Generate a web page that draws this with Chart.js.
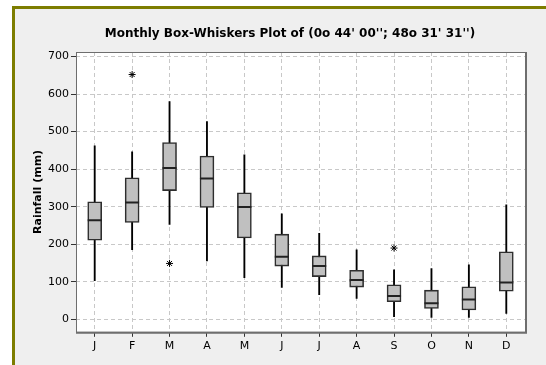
<!DOCTYPE html>
<html>
<head>
<meta charset="utf-8">
<script src="https://cdn.jsdelivr.net/npm/chart.js@4.4.1/dist/chart.umd.min.js"></script>
<style>
  html, body { margin: 0; padding: 0; background: #ffffff; }
  #frame {
    position: absolute; left: 12px; top: 6px; width: 534px; height: 359px;
    background: #efefef; border-left: 3px solid #7d7d00; border-top: 3px solid #7d7d00;
    box-sizing: border-box;
  }
  #wrap { position: absolute; left: 0; top: 0; width: 546px; height: 365px; }
</style>
</head>
<body>
<div id="frame"></div>
<div id="wrap"><canvas id="c" width="546" height="365"></canvas></div>
<script>
// Monthly rainfall distribution (mm)
const months   = ['J', 'F', 'M', 'A', 'M', 'J', 'J', 'A', 'S', 'O', 'N', 'D'];
const whiskLow = [103, 186, 253, 156, 111, 85, 66, 56, 7, 5, 5, 16];
const q1       = [211, 258, 343, 298, 217, 142, 114, 86, 47, 29, 25, 75];
const medians  = [264, 311, 403, 375, 299, 167, 142, 105, 62, 43, 53, 98];
const q3       = [313, 377, 471, 435, 337, 227, 169, 131, 92, 78, 87, 180];
const whiskHigh= [462, 446, 580, 527, 438, 281, 229, 185, 132, 135, 145, 305];
const outliers = [null, 652, 149, null, null, null, null, null, 190, null, null, null];
const yTicks   = [0, 100, 200, 300, 400, 500, 600, 700];
const titleText = "Monthly Box-Whiskers Plot of (0o 44' 00''; 48o 31' 31'')";
const yTitle = 'Rainfall (mm)';

const fontFamily = 'Tahoma, "DejaVu Sans", Verdana, sans-serif';

// white plotting area, its frame, the heading and the value-axis caption
const plotDecor = {
  id: 'plotDecor',
  beforeDraw(chart) {
    const { ctx, chartArea: a } = chart;
    ctx.save();
    ctx.fillStyle = '#ffffff';
    ctx.fillRect(a.left, a.top, a.right - a.left, a.bottom - a.top);
    ctx.restore();
  },
  afterDraw(chart) {
    const { ctx, chartArea: a } = chart;
    ctx.save();
    ctx.strokeStyle = '#6e6e6e';
    ctx.lineWidth = 1;
    ctx.strokeRect(a.left + 0.5, a.top + 0.5, a.right - a.left, a.bottom - a.top);
    ctx.lineWidth = 2;
    ctx.beginPath();
    ctx.moveTo(a.right + 1, a.top);
    ctx.lineTo(a.right + 1, a.bottom + 1);
    ctx.lineTo(a.left, a.bottom + 1);
    ctx.stroke();
    ctx.fillStyle = '#000';
    ctx.font = 'bold 12px ' + fontFamily;
    ctx.textAlign = 'center';
    ctx.textBaseline = 'middle';
    ctx.fillText(titleText, 290, 34);
    ctx.font = 'bold 11px ' + fontFamily;
    ctx.translate(38, (a.top + a.bottom) / 2);
    ctx.rotate(-Math.PI / 2);
    ctx.fillText(yTitle, 0, 0);
    ctx.restore();
  }
};

new Chart(document.getElementById('c'), {
  data: {
    labels: months,
    datasets: [
      {
        type: 'line', label: 'Outliers', data: outliers, order: 0,
        showLine: false, pointStyle: 'star', pointRadius: 3.5,
        borderColor: '#000', backgroundColor: '#000', pointBorderWidth: 1
      },
      {
        type: 'line', label: 'Median', data: medians, order: 1,
        showLine: false, pointStyle: 'line', pointRadius: 7,
        borderColor: '#222', pointBorderWidth: 2
      },
      {
        type: 'bar', label: 'IQR', order: 2,
        data: months.map((m, i) => [q1[i], q3[i]]),
        backgroundColor: '#c0c0c0', borderColor: '#2e2e2e', borderWidth: 1.6,
        borderSkipped: false, barThickness: 14, grouped: false
      },
      {
        type: 'bar', label: 'Whiskers', order: 3,
        data: months.map((m, i) => [whiskLow[i], whiskHigh[i]]),
        backgroundColor: '#000', borderWidth: 0,
        barThickness: 1.2, grouped: false
      }
    ]
  },
  options: {
    responsive: false,
    animation: false,
    devicePixelRatio: 1,
    layout: { padding: { left: 46, right: 21, top: 52, bottom: 9 } },
    plugins: {
      legend: { display: false },
      tooltip: { enabled: false },
      title: { display: false }
    },
    scales: {
      x: {
        offset: true,
        grid: {
          offset: false, color: '#c8c8c8',
          tickColor: '#333', tickLength: 5, tickBorderDash: []
        },
        border: { display: false, dash: [4, 3] },
        ticks: { color: '#000', font: { family: fontFamily, size: 11 }, padding: 3 }
      },
      y: {
        min: -33, max: 712,
        afterBuildTicks(scale) { scale.ticks = yTicks.map(v => ({ value: v })); },
        grid: {
          color: '#c8c8c8',
          tickColor: '#333', tickLength: 5, tickBorderDash: []
        },
        border: { display: false, dash: [4, 3] },
        ticks: { color: '#000', font: { family: fontFamily, size: 11 }, padding: 2 }
      }
    }
  },
  plugins: [plotDecor]
});
</script>
</body>
</html>
